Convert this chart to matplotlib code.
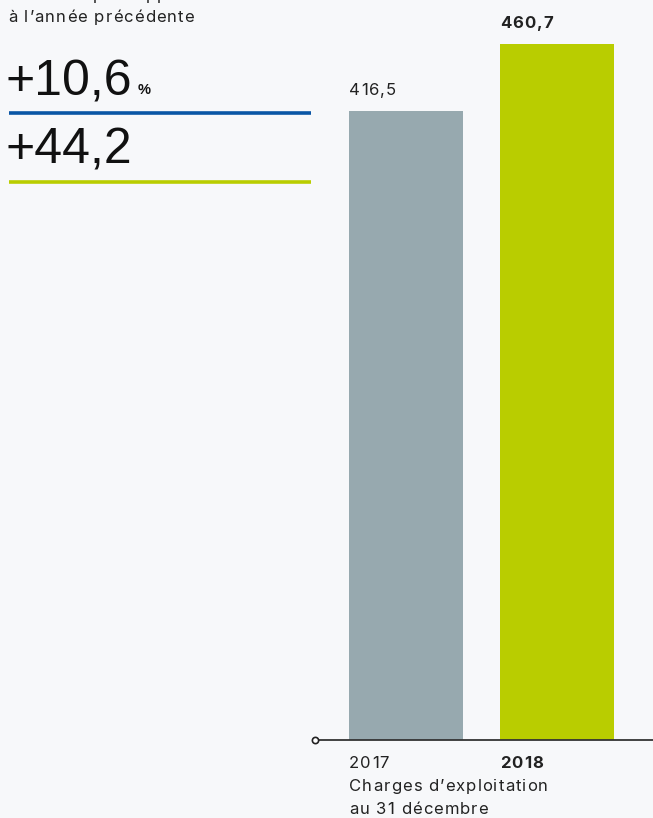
import matplotlib
matplotlib.use("Agg")
import matplotlib.pyplot as plt
from matplotlib.lines import Line2D
from matplotlib.transforms import IdentityTransform
from matplotlib.font_manager import FontProperties, findfont
from matplotlib.ft2font import FT2Font

years = ["2017", "2018"]
values = [416.5, 460.7]
value_labels = ["416,5", "460,7"]
bar_colors = ["#97a9af", "#b9cd00"]
change_pct = "+10,6"
change_abs = "+44,2"
header_lines = ["Variation par rapport", "à l’année précédente"]
axis_caption = ["Charges d’exploitation", "au 31 décembre"]

W, H = 653, 818
DPI = 100
BG = "#f7f8fa"
FONT = "Liberation Sans"
SMALL = "Inter"
SFS = 12.0
TRACK = 1.05
TXT = "#222222"

fig = plt.figure(figsize=(W / DPI, H / DPI), dpi=DPI, facecolor=BG)


def fx(x):
    return x / W


def fy(y):
    return 1 - y / H


def tracked(xd, yd, s, size=SFS, weight="normal", track=TRACK, color=TXT):
    """Draw text at display coords (xd, yd baseline) with letter spacing."""
    prop = FontProperties(family=SMALL, weight=weight, size=size)
    f = FT2Font(findfont(prop))
    f.set_size(size, DPI)
    x = xd
    for c in s:
        if c != " ":
            fig.text(x, yd, c, transform=IdentityTransform(), ha="left",
                     va="baseline", fontproperties=prop, color=color)
        g = f.load_char(ord(c))
        x += g.linearHoriAdvance / 65536 + track


# Axes: pixel x 313..653, baseline y=740 up to y=0
ax = fig.add_axes([fx(313), fy(740), fx(653) - fx(313), 740 / H])
ax.set_facecolor(BG)
pos = list(range(len(years)))
BW = 0.755
ax.bar(pos, values, width=BW, color=bar_colors, zorder=2)
ax.set_xlim(-0.616, 1.636)
ax.set_ylim(0, 490.0)
for s in ax.spines.values():
    s.set_visible(False)
ax.set_xticks([])
ax.set_yticks([])

# baseline with small open circle on left
ax.plot([-0.60, 1.636], [0, 0], color="#333333", lw=1.3, clip_on=False, zorder=3)
ax.plot([-0.60], [0], marker="o", ms=4.5, mfc="white", mec="#222222", mew=1.2,
        clip_on=False, zorder=4)

# value labels and year labels, left aligned at bar left edge
for i, (v, lab) in enumerate(zip(values, value_labels)):
    wt = "bold" if i == 1 else "normal"
    xd, yd = ax.transData.transform((i - BW / 2, v))
    tracked(xd, yd + 16, lab, weight=wt)
    xd0, yd0 = ax.transData.transform((i - BW / 2, 0))
    tracked(xd0, yd0 - 28, years[i], weight=wt)

# caption under axis
xd0, yd0 = ax.transData.transform((0 - BW / 2, 0))
tracked(xd0, yd0 - 51, axis_caption[0])
tracked(xd0, yd0 - 74, axis_caption[1])

# header text (first line cropped at top, as in the original)
tracked(8, H - 0, header_lines[0])
tracked(8, H - 22, header_lines[1])

# big numbers
fig.text(fx(6), fy(95), change_pct, ha="left", va="baseline", fontsize=36,
         family=FONT, color="#111111")
fig.text(fx(138), fy(94), "%", ha="left", va="baseline", fontsize=10.5,
         family=FONT, fontweight="bold", color="#111111")
fig.add_artist(Line2D([fx(9), fx(311)], [fy(113), fy(113)], color="#0a56a5", lw=2.6,
                      solid_capstyle="butt"))
fig.text(fx(6), fy(164), change_abs, ha="left", va="baseline", fontsize=36,
         family=FONT, color="#111111")
fig.add_artist(Line2D([fx(9), fx(311)], [fy(182), fy(182)], color="#b9cd00", lw=2.6,
                      solid_capstyle="butt"))

fig.savefig("out.png", dpi=DPI, facecolor=BG)
